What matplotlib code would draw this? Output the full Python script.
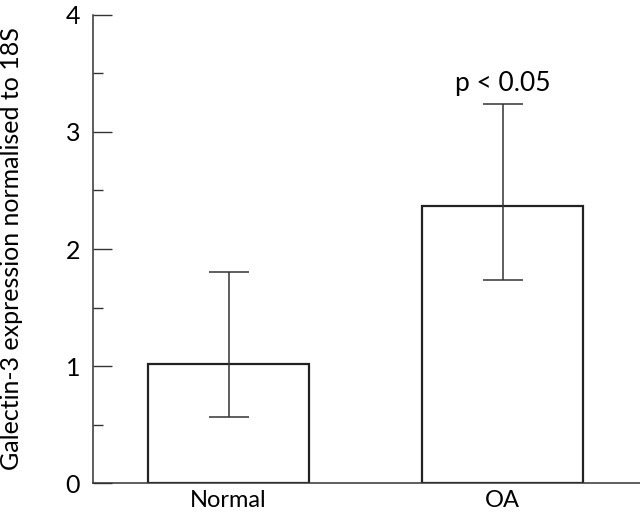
import numpy as np
import matplotlib
matplotlib.use("Agg")
import matplotlib.pyplot as plt
from matplotlib.ticker import MultipleLocator

# ── data ──
groups = ["Normal", "OA"]
means = [1.016, 2.37]
err_low = [0.567, 1.738]    # lower end of error bar
err_high = [1.80, 3.24]     # upper end of error bar
p_label = "p < 0.05"

plt.rcParams["font.family"] = ["Lato", "DejaVu Sans"]

fig = plt.figure(figsize=(6.4, 5.13), dpi=100)
ax = fig.add_axes([0.1448, 0.0579, 0.8552, 0.9134])

x = np.arange(len(groups))
means = np.array(means)
yerr = np.vstack([means - np.array(err_low), np.array(err_high) - means])

ax.bar(x, means, width=0.588, color="white", edgecolor="#222222", linewidth=1.6, zorder=2)
ax.errorbar(x, means, yerr=yerr, fmt="none", ecolor="#333333", elinewidth=1.1,
            capsize=14.5, capthick=1.1, zorder=3)

ax.text(x[1], 3.35, p_label, ha="center", va="baseline", fontsize=19)

ax.set_xlim(-0.496, 1.501)
ax.set_ylim(0, 4)
ax.set_xticks(x)
ax.set_xticklabels(groups)
ax.yaxis.set_major_locator(MultipleLocator(1))
ax.yaxis.set_minor_locator(MultipleLocator(0.5))

ax.tick_params(axis="x", length=0, labelsize=17, pad=5)
ax.tick_params(axis="y", which="major", direction="in", length=13.5, width=1.0,
               labelsize=18, pad=9, color="#333333")
ax.tick_params(axis="y", which="minor", direction="in", length=7, width=1.0, color="#333333")

for s in ["top", "right"]:
    ax.spines[s].set_visible(False)
for s in ["left", "bottom"]:
    ax.spines[s].set_linewidth(1.1)
    ax.spines[s].set_color("#333333")

ax.set_ylabel("Galectin-3 expression normalised to 18S", fontsize=18)
ax.yaxis.set_label_coords(-0.127, 0.5)

fig.savefig("out.png", dpi=100)
